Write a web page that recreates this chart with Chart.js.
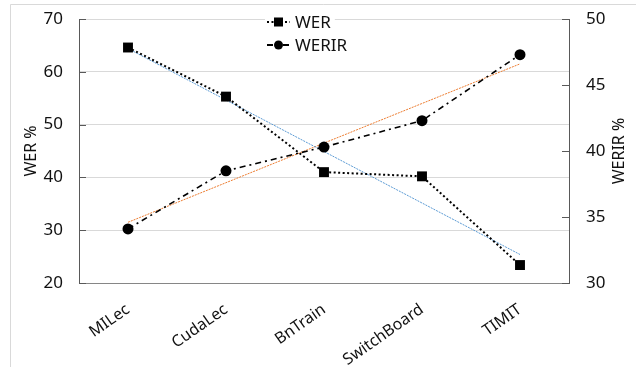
<!DOCTYPE html>
<html>
<head>
<meta charset="utf-8">
<script src="https://cdn.jsdelivr.net/npm/chart.js@4/dist/chart.umd.min.js"></script>
<style>
  html, body { margin: 0; padding: 0; background: #fff; }
  #wrap { width: 636px; height: 367px; }
</style>
</head>
<body>
<div id="wrap"><canvas id="chart" width="636" height="367"></canvas></div>
<script>
const categories = ["MILec", "CudaLec", "BnTrain", "SwitchBoard", "TIMIT"];
const werValues = [64.6, 55.3, 41.0, 40.2, 23.4];
const werirValues = [34.1, 38.5, 40.3, 42.3, 47.3];
// linear trendlines, read as their two end points
const werTrend = [64.4, null, null, null, 25.4];
const werirTrend = [34.6, null, null, null, 46.6];
const werTicks = [20, 30, 40, 50, 60, 70];
const werirTicks = [30, 35, 40, 45, 50];

const FONT = "'Noto Sans', 'DejaVu Sans', sans-serif";
const TEXT = "#111";

const WER_DASH = [2, 2.5];
const WERIR_DASH = [6, 4, 2, 4];

// outer frame, inward tick marks, axis titles and the line-sample legend
const decorations = {
  id: "decorations",
  beforeDraw(chart) {
    const ctx = chart.ctx;
    ctx.save();
    ctx.fillStyle = "#fff";
    ctx.fillRect(0, 0, chart.width, chart.height);
    ctx.strokeStyle = "#d9d9d9";
    ctx.lineWidth = 1;
    ctx.beginPath();
    ctx.moveTo(10.5, chart.height);
    ctx.lineTo(10.5, 4.5);
    ctx.lineTo(chart.width, 4.5);
    ctx.stroke();
    ctx.restore();
  },
  afterDraw(chart) {
    const ctx = chart.ctx;
    const area = chart.chartArea;
    const y = chart.scales.y, y1 = chart.scales.y1;
    ctx.save();
    ctx.strokeStyle = "#595959";
    ctx.lineWidth = 1;
    ctx.beginPath();
    for (const t of y.ticks) {
      const py = Math.round(y.getPixelForValue(t.value)) + 0.5;
      ctx.moveTo(area.left, py);
      ctx.lineTo(area.left + 7, py);
    }
    for (const t of y1.ticks) {
      const py = Math.round(y1.getPixelForValue(t.value)) + 0.5;
      ctx.moveTo(area.right, py);
      ctx.lineTo(area.right - 7, py);
    }
    ctx.stroke();

    // axis titles, both reading bottom to top
    ctx.fillStyle = TEXT;
    ctx.font = "16px " + FONT;
    ctx.textAlign = "center";
    ctx.textBaseline = "middle";
    const midY = (area.top + area.bottom) / 2;
    for (const [x, label] of [[31, "WER %"], [619, "WERIR %"]]) {
      ctx.save();
      ctx.translate(x, midY);
      ctx.rotate(-Math.PI / 2);
      ctx.fillText(label, 0, 0);
      ctx.restore();
    }

    // legend
    const entries = [
      { label: "WER", y: 22, dash: WER_DASH, marker: "rect" },
      { label: "WERIR", y: 45, dash: WERIR_DASH, marker: "circle" },
    ];
    ctx.font = "17px " + FONT;
    ctx.textAlign = "left";
    for (const e of entries) {
      const w = ctx.measureText(e.label).width;
      ctx.fillStyle = "#fff";
      ctx.fillRect(265, e.y - 10, 34 + w, 20);
      ctx.strokeStyle = "#000";
      ctx.lineWidth = 2;
      ctx.setLineDash(e.dash);
      ctx.beginPath();
      ctx.moveTo(267, e.y);
      ctx.lineTo(290, e.y);
      ctx.stroke();
      ctx.setLineDash([]);
      ctx.fillStyle = "#000";
      if (e.marker === "rect") {
        ctx.fillRect(274, e.y - 4.5, 9, 9);
      } else {
        ctx.beginPath();
        ctx.arc(278.5, e.y, 4.5, 0, Math.PI * 2);
        ctx.fill();
      }
      ctx.fillStyle = TEXT;
      ctx.fillText(e.label, 295, e.y + 1);
    }
    ctx.restore();
  },
};

// fixed axis boxes so the plot lands where the reference has it
function fixY(width) {
  return (scale) => {
    scale.width = width;
    scale.paddingTop = 0;
    scale.paddingBottom = 0;
  };
}

new Chart(document.getElementById("chart"), {
  type: "line",
  data: {
    labels: categories,
    datasets: [
      {
        label: "WER",
        data: werValues,
        yAxisID: "y",
        borderColor: "#000",
        backgroundColor: "#000",
        borderWidth: 2,
        borderDash: WER_DASH,
        pointStyle: "rect",
        pointRadius: 7,
        pointBorderWidth: 0,
        order: 1,
      },
      {
        label: "WERIR",
        data: werirValues,
        yAxisID: "y1",
        borderColor: "#000",
        backgroundColor: "#000",
        borderWidth: 1.6,
        borderDash: WERIR_DASH,
        pointStyle: "circle",
        pointRadius: 5.5,
        pointBorderWidth: 0,
        order: 2,
      },
      {
        label: "Linear (WER)",
        data: werTrend,
        yAxisID: "y",
        borderColor: "#5b9bd5",
        borderWidth: 1,
        borderDash: [2, 1],
        pointRadius: 0,
        spanGaps: true,
        order: 3,
      },
      {
        label: "Linear (WERIR)",
        data: werirTrend,
        yAxisID: "y1",
        borderColor: "#ed7d31",
        borderWidth: 1,
        borderDash: [2, 1],
        pointRadius: 0,
        spanGaps: true,
        order: 4,
      },
    ],
  },
  options: {
    responsive: false,
    animation: false,
    devicePixelRatio: 1,
    layout: { padding: { top: 19, left: 0, right: 0, bottom: 0 } },
    plugins: { legend: { display: false }, tooltip: { enabled: false } },
    scales: {
      x: {
        offset: true,
        grid: { display: false },
        border: { color: "#868686", width: 1 },
        ticks: {
          color: TEXT,
          font: { family: FONT, size: 16 },
          minRotation: 35,
          maxRotation: 35,
          padding: 9,
        },
        afterFit(scale) {
          scale.height = 84;
          scale.paddingLeft = 0;
          scale.paddingRight = 0;
        },
      },
      y: {
        position: "left",
        min: 20,
        max: 70,
        afterBuildTicks(scale) { scale.ticks = werTicks.map((v) => ({ value: v })); },
        grid: { color: "#d9d9d9", drawTicks: false },
        border: { color: "#595959", width: 1 },
        ticks: { color: TEXT, font: { family: FONT, size: 17 }, padding: 16 },
        afterFit: fixY(79),
      },
      y1: {
        position: "right",
        min: 30,
        max: 50,
        afterBuildTicks(scale) { scale.ticks = werirTicks.map((v) => ({ value: v })); },
        grid: { display: false, drawTicks: false },
        border: { color: "#595959", width: 1 },
        ticks: { color: TEXT, font: { family: FONT, size: 17 }, padding: 17 },
        afterFit: fixY(67),
      },
    },
  },
  plugins: [decorations],
});
</script>
</body>
</html>
